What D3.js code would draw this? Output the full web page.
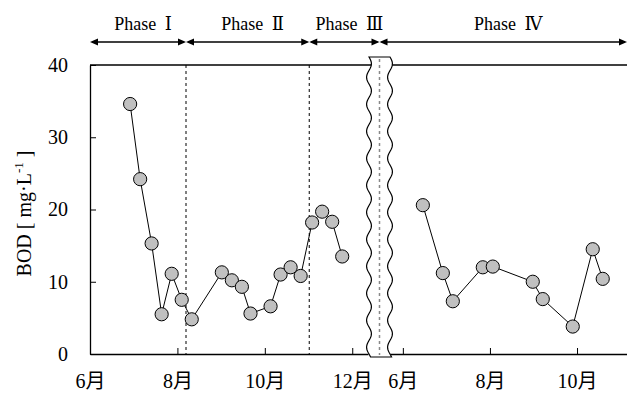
<!DOCTYPE html>
<html>
<head>
<meta charset="utf-8">
<script src="https://cdn.jsdelivr.net/npm/d3@7"></script>
<style>
  html, body { margin: 0; padding: 0; background: #fff; }
  svg { display: block; }
  text { font-family: "Liberation Serif", "Times New Roman", "DejaVu Serif", "Noto Sans CJK JP", serif; fill: #000; }
</style>
</head>
<body>
<svg id="chart" width="627" height="394"></svg>
<script>
// BOD sampling, first year (phases I-III)
const datesA = ["2014-06-29","2014-07-06","2014-07-14","2014-07-21","2014-07-28","2014-08-04","2014-08-11",
                "2014-09-01","2014-09-08","2014-09-15","2014-09-21","2014-10-05","2014-10-12","2014-10-19",
                "2014-10-26","2014-11-03","2014-11-10","2014-11-17","2014-11-24"];
const valuesA = [34.6, 24.2, 15.3, 5.5, 11.1, 7.5, 4.8,
                 11.3, 10.2, 9.3, 5.6, 6.6, 11.0, 12.0,
                 10.8, 18.2, 19.7, 18.3, 13.5];

// BOD sampling, second year (phase IV)
const datesB = ["2015-06-15","2015-06-29","2015-07-06","2015-07-27","2015-08-03",
                "2015-08-31","2015-09-07","2015-09-28","2015-10-12","2015-10-19"];
const valuesB = [20.6, 11.2, 7.3, 12.0, 12.1, 10.0, 7.6, 3.8, 14.5, 10.4];

// Axis ticks
const ticksA = ["2014-06-01","2014-08-01","2014-10-01","2014-12-01"];
const ticksB = ["2015-06-01","2015-08-01","2015-10-01"];
const yTicks = [0, 10, 20, 30, 40];

// Phase boundaries inside the first year and phase names
const phaseBounds = ["2014-08-07","2014-11-01"];
const phaseWord = "Phase";
const phaseNumerals = ["\u2160", "\u2161", "\u2162", "\u2163"];

(function draw() {
  const parse = d3.timeParse("%Y-%m-%d");
  const svg = d3.select("#chart");

  const plotTop = 65, plotBottom = 354, plotLeft = 90, plotRight = 627;
  const breakL = 368, breakR = 390, breakC = (breakL + breakR) / 2;

  const xA = d3.scaleTime()
    .domain([parse("2014-06-01"), parse("2014-12-12")])
    .range([plotLeft, breakL]);
  const xB = d3.scaleTime()
    .domain([parse("2015-05-23"), parse("2015-11-05")])
    .range([breakR, plotRight]);
  const y = d3.scaleLinear().domain([0, 40]).range([plotBottom, plotTop]);

  const fmtMonth = d => (d.getMonth() + 1) + "月";

  // Top frame line
  svg.append("line")
    .attr("x1", plotLeft).attr("x2", plotRight).attr("y1", plotTop).attr("y2", plotTop)
    .attr("stroke", "#000").attr("stroke-width", 1.3);

  // Phase dividers
  svg.selectAll("line.phase")
    .data(phaseBounds.map(parse))
    .join("line")
    .attr("class", "phase")
    .attr("x1", d => xA(d)).attr("x2", d => xA(d))
    .attr("y1", plotTop).attr("y2", plotBottom)
    .attr("stroke", "#000").attr("stroke-width", 1)
    .attr("stroke-dasharray", "3,3");

  // Left axis
  const yAxis = d3.axisLeft(y).tickValues(yTicks).tickSizeInner(-6).tickSizeOuter(0).tickPadding(22);
  const gy = svg.append("g").attr("transform", `translate(${plotLeft},0)`).call(yAxis);
  gy.selectAll("text").style("font-size", "20px");
  gy.select(".domain").attr("stroke-width", 1.3);

  // Bottom axes, one per year
  function bottomAxis(scale, ticks) {
    const ax = d3.axisBottom(scale).tickValues(ticks.map(parse)).tickFormat(fmtMonth)
      .tickSizeInner(-6).tickSizeOuter(0).tickPadding(20);
    const g = svg.append("g").attr("transform", `translate(0,${plotBottom})`).call(ax);
    g.selectAll("text").style("font-size", "20px");
    g.select(".domain").attr("stroke-width", 1.3);
    return g;
  }
  bottomAxis(xA, ticksA);
  bottomAxis(xB, ticksB);

  // Y axis title
  const yTitle = svg.append("text")
    .attr("transform", `translate(31,${(plotTop + plotBottom) / 2 + 4}) rotate(-90)`)
    .attr("text-anchor", "middle")
    .style("font-size", "20px");
  yTitle.append("tspan").text("BOD [ mg\u00B7L");
  yTitle.append("tspan").attr("dy", -8).style("font-size", "13px").text("-1");
  yTitle.append("tspan").attr("dy", 8).text(" ]");

  // Series lines and markers
  const line = (xs) => d3.line().x(d => xs(d.date)).y(d => y(d.value));
  const seriesA = datesA.map((d, i) => ({ date: parse(d), value: valuesA[i] }));
  const seriesB = datesB.map((d, i) => ({ date: parse(d), value: valuesB[i] }));

  [[seriesA, xA], [seriesB, xB]].forEach(([data, xs]) => {
    svg.append("path").datum(data)
      .attr("d", line(xs))
      .attr("fill", "none").attr("stroke", "#000").attr("stroke-width", 1);
    svg.append("g").selectAll("circle").data(data).join("circle")
      .attr("cx", d => xs(d.date)).attr("cy", d => y(d.value))
      .attr("r", 6.6)
      .attr("fill", "#c0c0c0").attr("stroke", "#000").attr("stroke-width", 1);
  });

  // Axis break: white band with wavy edges
  const bTop = 57, bBot = 357, amp = 2.4, period = 27;
  const wave = (x0) => d3.range(bTop, bBot + 0.5, 1).map(v => [x0 + amp * Math.sin(2 * Math.PI * (v - bTop) / period), v]);
  const leftEdge = wave(breakL + 1);
  const rightEdge = wave(breakR).reverse();
  svg.append("path")
    .attr("d", d3.line()(leftEdge.concat(rightEdge)) + "Z")
    .attr("fill", "#fff").attr("stroke", "#000").attr("stroke-width", 1.2);
  svg.append("line")
    .attr("x1", breakC + 0.5).attr("x2", breakC + 0.5).attr("y1", bTop + 2).attr("y2", bBot - 2)
    .attr("stroke", "#888").attr("stroke-width", 1.5).attr("stroke-dasharray", "3,3");

  // Phase arrows along the top
  const phaseX = [plotLeft, xA(parse(phaseBounds[0])), xA(parse(phaseBounds[1])), breakC + 0.5, plotRight];
  const arrowY = 42, headL = 8, headW = 3.6;
  const arrows = svg.append("g");
  for (let i = 0; i < phaseNumerals.length; i++) {
    const a = phaseX[i], b = phaseX[i + 1];
    arrows.append("line")
      .attr("x1", a + 2).attr("x2", b - 2).attr("y1", arrowY).attr("y2", arrowY)
      .attr("stroke", "#000").attr("stroke-width", 1.5);
    arrows.append("path")
      .attr("d", `M${a},${arrowY} L${a + headL},${arrowY - headW} L${a + headL},${arrowY + headW} Z`)
      .attr("fill", "#000");
    arrows.append("path")
      .attr("d", `M${b},${arrowY} L${b - headL},${arrowY - headW} L${b - headL},${arrowY + headW} Z`)
      .attr("fill", "#000");
    const t = arrows.append("text")
      .attr("x", (a + b) / 2 + 5).attr("y", 30)
      .attr("text-anchor", "middle")
      .style("font-size", "18px");
    t.append("tspan").text(phaseWord + " ");
    t.append("tspan").attr("dx", 4).text(phaseNumerals[i]);
  }
})();
</script>
</body>
</html>
